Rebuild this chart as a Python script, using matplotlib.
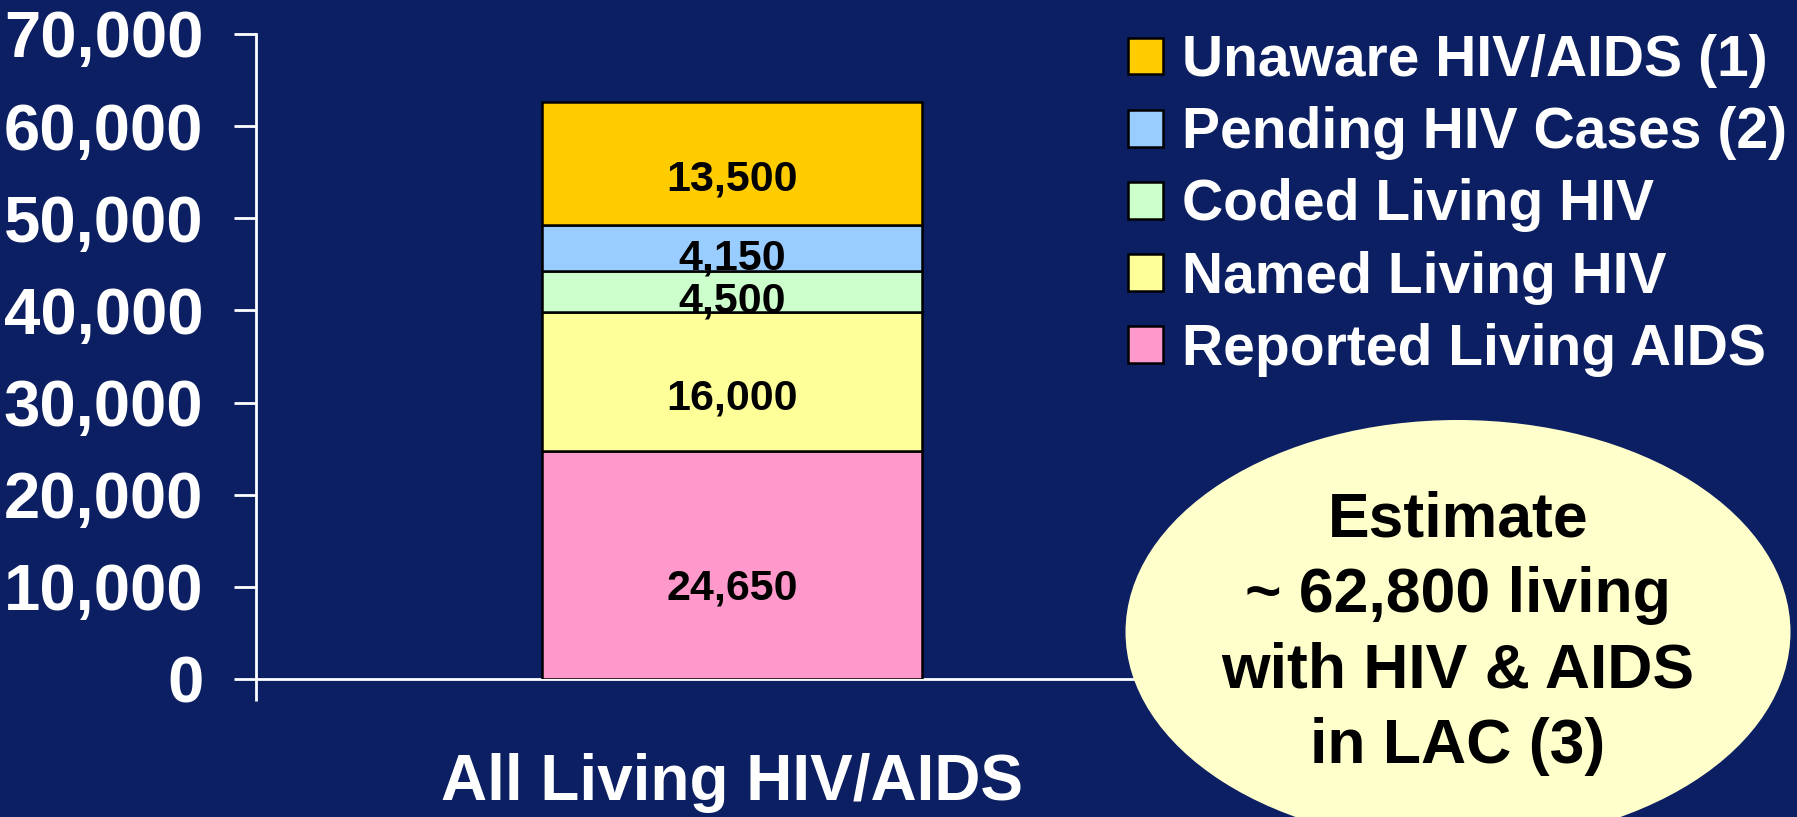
import numpy as np
import matplotlib
matplotlib.use("Agg")
import matplotlib.pyplot as plt
from matplotlib.patches import Ellipse, Patch
from matplotlib.ticker import FuncFormatter

plt.rcParams['font.family'] = ['Liberation Sans', 'DejaVu Sans']
plt.rcParams['font.weight'] = 'bold'

# data
categories = ['All Living HIV/AIDS']
series_names = ['Reported Living AIDS', 'Named Living HIV', 'Coded Living HIV',
                'Pending HIV Cases (2)', 'Unaware HIV/AIDS (1)']
# segment heights as drawn in the bar
segment_heights = [24700, 15100, 4450, 5000, 13350]
# numbers printed on the segments
segment_labels = [24650, 16000, 4500, 4150, 13500]
series_colors = ['#FF99CC', '#FFFF99', '#CCFFCC', '#99CCFF', '#FFCC00']
y_ticks = [0, 10000, 20000, 30000, 40000, 50000, 60000, 70000]
estimate_text = "Estimate\n~ 62,800 living\nwith HIV & AIDS\nin LAC (3)"

bg = '#0B1F62'

fig = plt.figure(figsize=(17.97, 8.17), dpi=100, facecolor=bg)
ax = fig.add_axes([0.1425, 0.1689, 0.5297, 0.7895])
ax.set_facecolor(bg)

# stacked bar
bottom = 0
for h, lab, col, name in zip(segment_heights, segment_labels, series_colors, series_names):
    ax.bar(0, h, bottom=bottom, width=0.399, color=col, edgecolor='black',
           linewidth=1.8, label=name, zorder=3)
    ax.annotate(f'{lab:,}', (0, bottom + 0.43 * h), xytext=(0, -5),
                textcoords='offset points', ha='center', va='center',
                fontsize=31, fontweight='bold', color='black', zorder=4)
    bottom += h

ax.set_xlim(-0.5, 0.5)
ax.set_ylim(0, 70000)
ax.set_yticks(y_ticks)
ax.yaxis.set_major_formatter(FuncFormatter(lambda v, p: f'{v:,.0f}'))
ax.tick_params(axis='y', colors='white', labelsize=47, length=16, width=2,
               direction='out', pad=22)
for t in ax.get_yticklabels():
    t.set_fontweight('bold')

ax.set_xticks([0], labels=categories)
ax.set_xticks([-0.5, 0.5], minor=True)
ax.tick_params(axis='x', which='major', length=0, labelsize=46, colors='white', pad=53)
ax.tick_params(axis='x', which='minor', length=16, width=2, color='white', direction='out')
for t in ax.get_xticklabels():
    t.set_fontweight('bold')

for s in ['top', 'right']:
    ax.spines[s].set_visible(False)
for s in ['left', 'bottom']:
    ax.spines[s].set_color('white')
    ax.spines[s].set_linewidth(2)

# legend, top item first
handles, labels = ax.get_legend_handles_labels()
leg = fig.legend(handles[::-1], labels[::-1], loc='upper left',
                 bbox_to_anchor=(1128 / 1797, 1 - 34 / 817), frameon=False,
                 fontsize=41, handlelength=0.62, handleheight=0.62,
                 handletextpad=0.33, labelspacing=0.32, borderpad=0, borderaxespad=0)
for t in leg.get_texts():
    t.set_color('white')
    t.set_fontweight('bold')
for p in leg.get_patches():
    p.set_linewidth(1.8)

# estimate bubble
ell = Ellipse((1458 / 1797, 1 - 632 / 817), 665 / 1797, 424 / 817,
              transform=fig.transFigure, facecolor='#FFFFCC', edgecolor='none', zorder=5)
fig.add_artist(ell)
fig.text(1458 / 1797, 1 - 633 / 817, estimate_text, ha='center', va='center',
         fontsize=45, fontweight='bold', color='black', linespacing=1.36, zorder=6)

fig.savefig('out.png', dpi=100, facecolor=bg)
